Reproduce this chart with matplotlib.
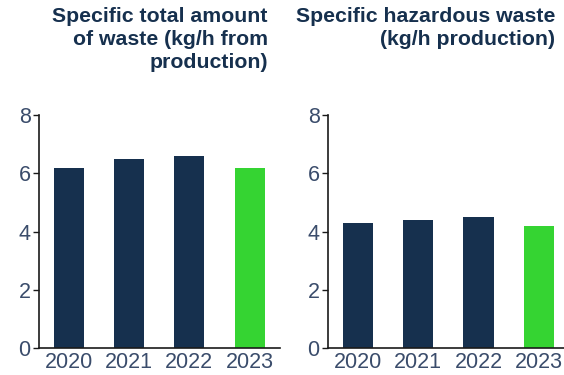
import matplotlib
matplotlib.use("Agg")
import matplotlib.pyplot as plt

years = ["2020", "2021", "2022", "2023"]
total_waste = [6.2, 6.5, 6.6, 6.2]
hazardous_waste = [4.3, 4.4, 4.5, 4.2]

title_total = "Specific total amount\nof waste (kg/h from\nproduction)"
title_hazardous = "Specific hazardous waste\n(kg/h production)"

NAVY = "#16304e"
GREEN = "#35d432"
LABEL = "#3a4c6b"

plt.rcParams["font.family"] = ["Liberation Sans", "DejaVu Sans"]

fig = plt.figure(figsize=(5.64, 3.75), dpi=100)
ax1 = fig.add_axes([0.069, 0.072, 0.427, 0.621])
ax2 = fig.add_axes([0.5816, 0.072, 0.4184, 0.621])


def draw_panel(ax, values, xmax):
    colors = [NAVY] * (len(values) - 1) + [GREEN]
    x = range(len(values))
    ax.bar(x, values, width=0.5, color=colors)
    ax.set_xlim(-0.5, xmax)
    ax.set_ylim(0, 8)
    ax.set_yticks([0, 2, 4, 6, 8])
    ax.set_xticks(list(x))
    ax.set_xticklabels(years)
    for side in ("top", "right"):
        ax.spines[side].set_visible(False)
    for side in ("left", "bottom"):
        ax.spines[side].set_color("#1a1a1a")
        ax.spines[side].set_linewidth(1.2)
    ax.tick_params(axis="y", length=4, width=1.0, color="#1a1a1a",
                   labelsize=15.5, labelcolor=LABEL, pad=2)
    ax.tick_params(axis="x", length=0, labelsize=15.5, labelcolor=LABEL, pad=3)


draw_panel(ax1, total_waste, 3.5)
draw_panel(ax2, hazardous_waste, 3.42)

fig.text(268 / 564, 1 - 7 / 375, title_total, ha="right", va="top",
         fontsize=15.3, fontweight="bold", color=NAVY, linespacing=1.27)
fig.text(555 / 564, 1 - 7 / 375, title_hazardous, ha="right", va="top",
         fontsize=15.3, fontweight="bold", color=NAVY, linespacing=1.27)

fig.savefig("out.png", dpi=100)
